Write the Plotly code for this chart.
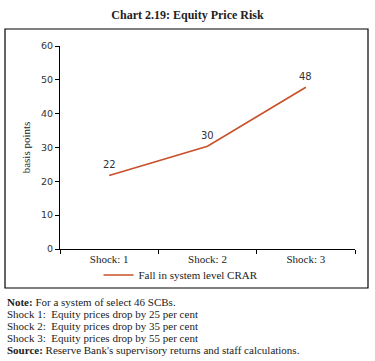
import plotly.graph_objects as go

categories = ["Shock: 1", "Shock: 2", "Shock: 3"]
crar_fall = [21.7, 30.4, 47.8]
value_labels = ["22", "30", "48"]
y_ticks = [0, 10, 20, 30, 40, 50, 60]
note_lines = [
    "<b>Note:</b> For a system of select 46 SCBs.",
    "Shock 1:  Equity prices drop by 25 per cent",
    "Shock 2:  Equity prices drop by 35 per cent",
    "Shock 3:  Equity prices drop by 55 per cent",
    "<b>Source:</b> Reserve Bank's supervisory returns and staff calculations.",
]

W, H = 375, 361
L, R, T, B = 60, 20, 46, 112
pw, ph = W - L - R, H - T - B

def px_x(px):
    return (px - L) / pw

def px_y(py):
    return (H - B - py) / ph

serif = "Liberation Serif, DejaVu Serif, serif"

fig = go.Figure()
fig.add_trace(go.Scatter(
    x=categories, y=crar_fall, mode="lines",
    line=dict(color="#C8502A", width=1.6),
    name="Fall in system level CRAR",
))

for c, v, t in zip(categories, crar_fall, value_labels):
    fig.add_annotation(x=c, y=v, text=t, showarrow=False, yshift=11,
                       font=dict(family="DejaVu Sans, sans-serif", size=10, color="#333333"))

fig.update_layout(
    width=W, height=H,
    margin=dict(l=L, r=R, t=T, b=B, autoexpand=False),
    paper_bgcolor="white", plot_bgcolor="white",
    title=dict(text="<b>Chart 2.19: Equity Price Risk</b>", x=0.5, xanchor="center",
               y=1 - 15 / H, yanchor="middle", yref="container",
               font=dict(family=serif, size=12, color="#222222")),
    showlegend=True,
    legend=dict(orientation="h", x=px_x(181), xanchor="center", y=px_y(275), yanchor="middle",
                font=dict(family=serif, size=11, color="#222222"), bgcolor="rgba(0,0,0,0)"),
    xaxis=dict(range=[-0.5, 2.5], showline=True, linecolor="black", linewidth=1, ticks="outside", ticklen=4,
               tickcolor="black", tickson="boundaries", showgrid=False,
               tickfont=dict(family=serif, size=11, color="#222222")),
    yaxis=dict(range=[0, 60], tickvals=y_ticks, showline=True, linecolor="black", linewidth=1,
               ticks="outside", ticklen=4, tickcolor="black", showgrid=False, zeroline=False,
               title=dict(text="basis points", font=dict(family=serif, size=11, color="#222222"), standoff=8),
               tickfont=dict(family="DejaVu Sans, sans-serif", size=9.5, color="#333333")),
)

fig.add_shape(type="rect", xref="paper", yref="paper",
              x0=px_x(5), x1=px_x(368), y0=px_y(288), y1=px_y(29),
              line=dict(color="black", width=1.2), fillcolor="rgba(0,0,0,0)", layer="below")

for i, line in enumerate(note_lines):
    fig.add_annotation(text=line, xref="paper", yref="paper", x=px_x(5), y=px_y(302 + i * 12),
                       xanchor="left", yanchor="middle", align="left", showarrow=False,
                       font=dict(family=serif, size=11, color="#222222"))

fig.write_html("out.html", config={"displayModeBar": False},
               post_script="document.body.style.margin='0';document.body.style.padding='0';")
